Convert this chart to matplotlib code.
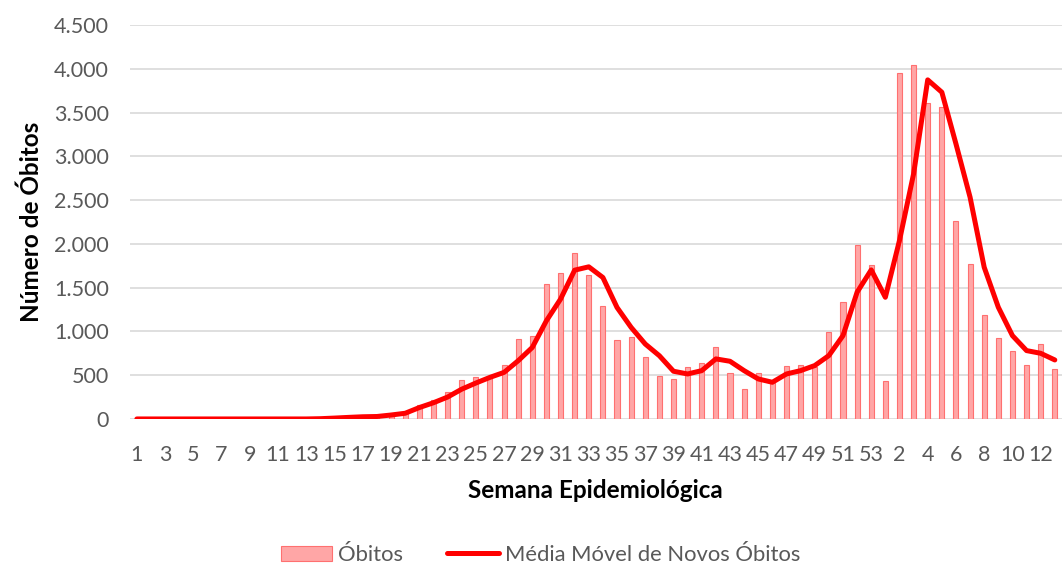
import matplotlib.pyplot as plt
from matplotlib.patches import Patch
from matplotlib.lines import Line2D
from matplotlib.ticker import FuncFormatter
import numpy as np

plt.rcParams['font.family'] = ['Lato', 'DejaVu Sans']

# semanas epidemiologicas: 2020 (1-53) e 2021 (1-13)
weeks = list(range(1, 54)) + list(range(1, 14))

obitos = [0, 0, 0, 0, 0, 0, 0, 0, 0, 0, 0, 0, 0,
          2, 8, 15, 20, 25, 45, 70,
          160, 217, 303, 449, 483, 465, 616, 912, 947, 1540,
          1662, 1901, 1650, 1289, 905, 935, 703, 487, 456, 598,
          640, 827, 522, 339, 522, 420, 606, 621, 590, 990,
          1333, 1992, 1756,
          438, 3954, 4042, 3608, 3562, 2267, 1768, 1192, 930, 781,
          617, 857, 571]

media_movel = [0, 0, 0, 0, 0, 0, 0, 0, 0, 0, 0, 0, 0,
               3, 10, 18, 25, 28, 45, 65,
               130, 185, 250, 340, 410, 475, 532, 665, 817, 1122,
               1369, 1700, 1738, 1616, 1274, 1046, 856, 722, 545, 514,
               552, 686, 659, 552, 457, 419, 514, 552, 610, 724,
               952, 1448, 1703,
               1390, 2038, 2800, 3874, 3733, 3143, 2533, 1733, 1276, 952,
               781, 750, 674]

gray = '#595959'
bar_face = '#FFA6A6'
bar_edge = '#FF7070'
line_red = '#FF0000'

fig = plt.figure(figsize=(10.64, 5.70), dpi=100)
ax = fig.add_axes([0.122, 0.265, 0.876, 0.691])

x = np.arange(len(weeks))
ax.bar(x, obitos, width=0.36, color=bar_face, edgecolor=bar_edge, linewidth=0.8, zorder=2)
ax.plot(x, media_movel, color=line_red, linewidth=3.6, solid_capstyle='round',
        solid_joinstyle='round', zorder=3)

ax.set_xlim(-0.5, len(weeks) - 0.5)
ax.set_ylim(0, 4500)
ax.set_yticks(np.arange(0, 4501, 500))
ax.yaxis.set_major_formatter(FuncFormatter(lambda v, p: f"{v:,.0f}".replace(",", ".")))
ax.set_xticks(x[::2])
ax.set_xticklabels([str(w) for w in weeks[::2]])
ax.grid(axis='y', color='#D9D9D9', linewidth=1.2, zorder=0)
ax.set_axisbelow(True)
for s in ax.spines.values():
    s.set_visible(False)
ax.tick_params(axis='both', length=0, labelsize=15.5, colors=gray)
ax.tick_params(axis='x', pad=19)
ax.tick_params(axis='y', pad=15)

ax.set_xlabel('Semana Epidemiológica', fontsize=17.5, fontweight='bold', color='black', labelpad=10)
ax.set_ylabel('Número de Óbitos', fontsize=17.5, fontweight='bold', color='black', labelpad=8)

handles = [Patch(facecolor=bar_face, edgecolor=bar_edge, linewidth=0.8),
           Line2D([0], [0], color=line_red, linewidth=3.6, solid_capstyle='round')]
fig.legend(handles, ['Óbitos', 'Média Móvel de Novos Óbitos'], loc='center',
           bbox_to_anchor=(0.508, 0.026), ncol=2, frameon=False, fontsize=15.8,
           handlelength=2.35, handletextpad=0.27, columnspacing=2.0, labelcolor=gray)

fig.savefig('out.png', dpi=100)
